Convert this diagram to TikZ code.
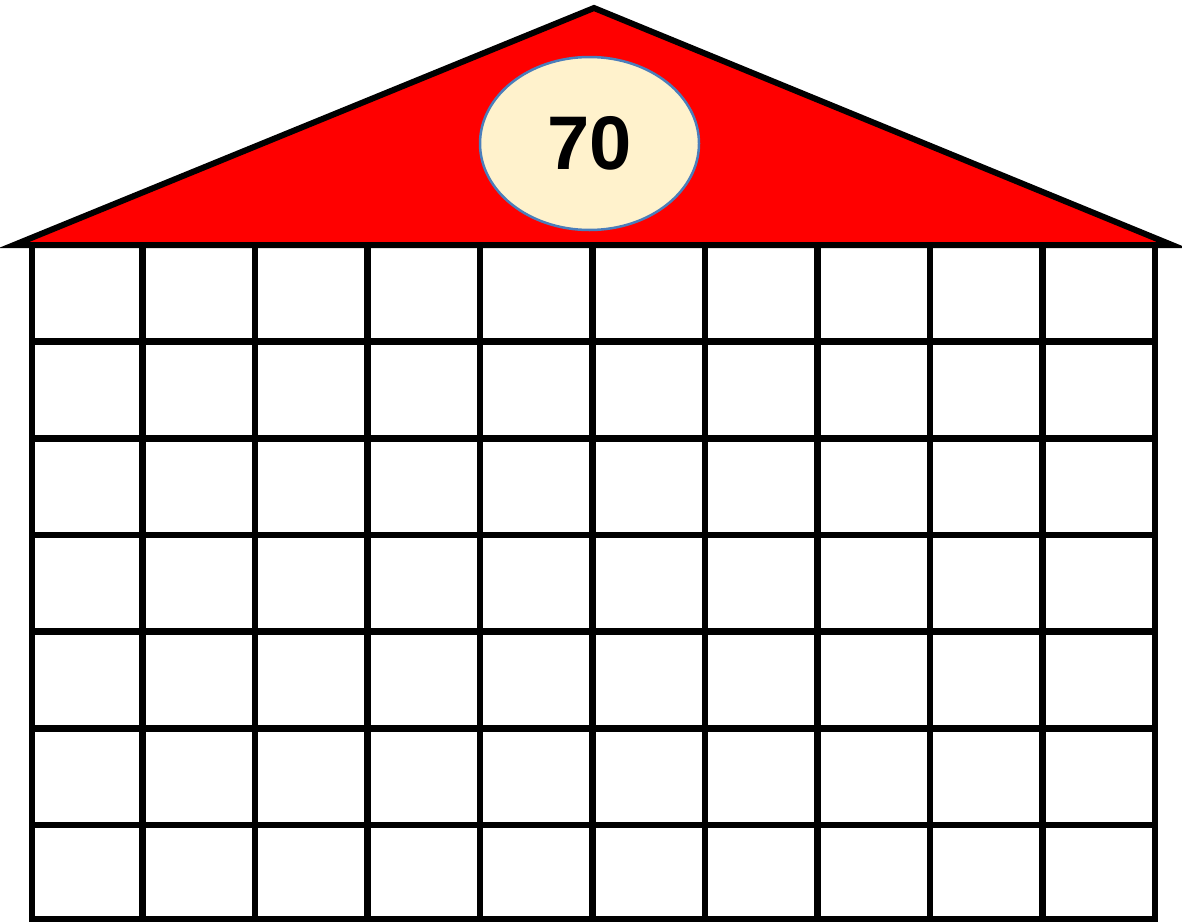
\documentclass[tikz,border=0pt]{standalone}
\usepackage{fontspec}
\newfontfamily\numfont{Liberation Sans}
\usetikzlibrary{shapes.geometric}
\definecolor{roofred}{RGB}{255,0,0}
\definecolor{badgefill}{RGB}{255,242,204}
\definecolor{badgeline}{RGB}{74,126,187}
\tikzset{
  gridline/.style={black,line width=6.5pt,line cap=rect},
  roof/.style={fill=roofred,draw=black,line width=6pt,line join=miter},
  badge/.style={ellipse,fill=badgefill,draw=badgeline,line width=2.5pt,minimum width=219pt,minimum height=173pt,inner sep=0pt,font=\numfont\bfseries\fontsize{76}{76}\selectfont}
}
\begin{document}
\begin{tikzpicture}[x=1pt,y=-1pt]
\useasboundingbox (0,0) rectangle (1182,921);
\fill[white] (0,0) rectangle (1182,921);
% grid
\draw[gridline] (32,245) -- (32,921);
\foreach \i in {1,...,10} {
  \draw[gridline] ({30+\i*112.5},245) -- ({30+\i*112.5},921);
}
\foreach \j in {1,...,6} {
  \draw[gridline] (32,{245+\j*96.67}) -- (1155,{245+\j*96.67});
}
\draw[gridline] (32,919) -- (1155,919);
% roof
\draw[roof] (14,245) -- (594,8) -- (1172,245) -- cycle;
% badge
\node[badge] (num) at (589.5,143.5) {70};
\end{tikzpicture}
\end{document}
